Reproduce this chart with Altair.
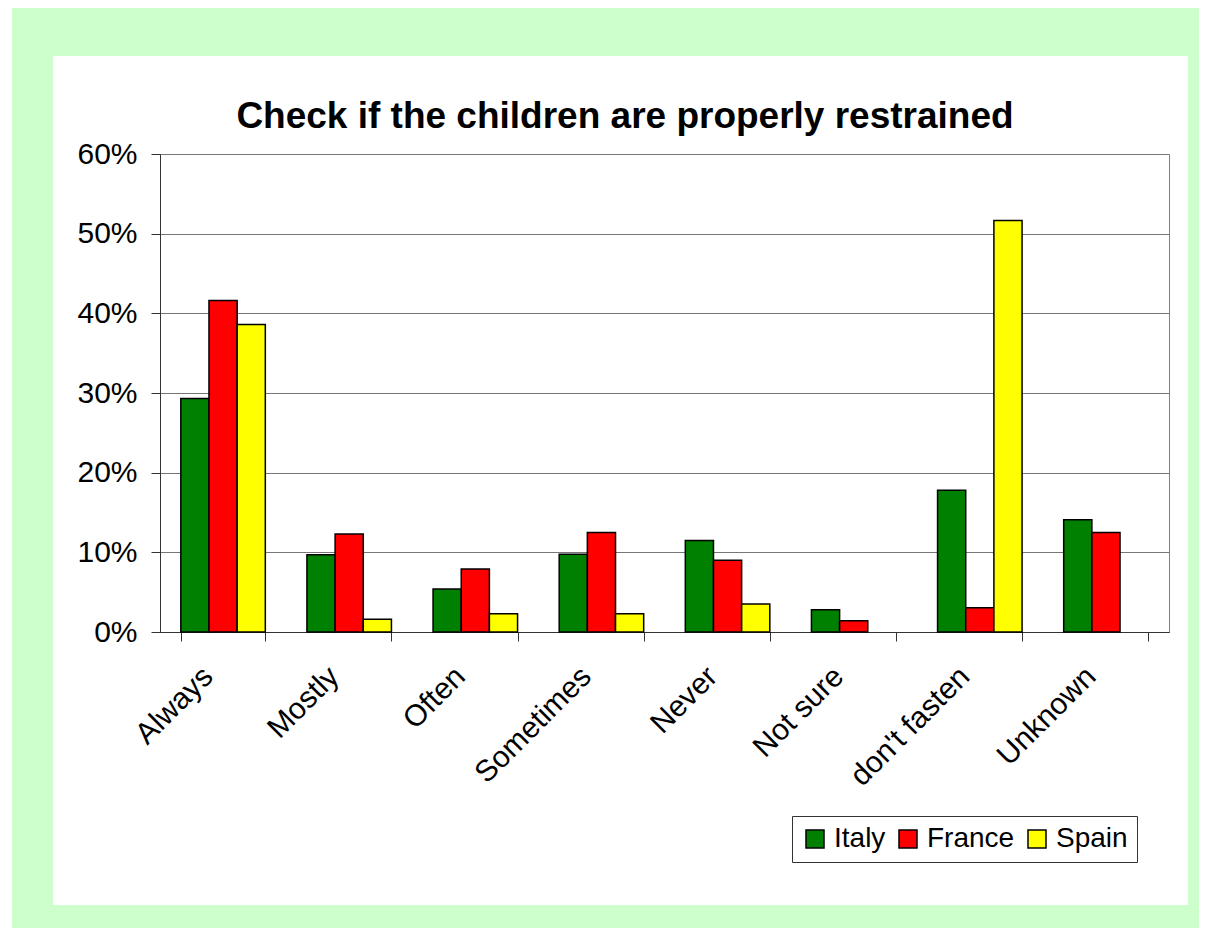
import altair as alt
import pandas as pd

categories = ["Always", "Mostly", "Often", "Sometimes", "Never", "Not sure", "don't fasten", "Unknown"]
countries = ["Italy", "France", "Spain"]
italy = [29.3, 9.7, 5.4, 9.75, 11.5, 2.8, 17.8, 14.1]
france = [41.6, 12.3, 7.9, 12.5, 9.0, 1.4, 3.05, 12.5]
spain = [38.6, 1.6, 2.3, 2.3, 3.5, None, 51.65, None]
y_ticks = [0, 0.1, 0.2, 0.3, 0.4, 0.5, 0.6]
colors = ["#008000", "#FF0000", "#FFFF00"]
title_text = ["Check if the children are properly restrained"]

rows = []
for country, vals in zip(countries, [italy, france, spain]):
    for cat, v in zip(categories, vals):
        if v is not None:
            rows.append({"category": cat, "country": country, "value": v / 100})
df = pd.DataFrame(rows)

FONT = "Arial"
GREEN_BG = "#CCFFCC"

bars = alt.Chart(df).mark_bar(stroke="black", strokeWidth=1.5).encode(
    x=alt.X(
        "category:N", sort=categories,
        scale=alt.Scale(paddingInner=0.33, paddingOuter=0.165),
        axis=alt.Axis(
            title=None, labelAngle=-45, labelAlign="right", labelBaseline="alphabetic",
            labelFontSize=30, labelFont=FONT, labelColor="black", labelPadding=37,
            labelOffset=-9,
            tickBand="extent", tickSize=9, tickColor="#333", domainColor="#333",
            grid=False, labelOverlap=False,
        ),
    ),
    xOffset=alt.XOffset("country:N", sort=countries, scale=alt.Scale(domain=countries, paddingInner=0, paddingOuter=0)),
    y=alt.Y(
        "value:Q", scale=alt.Scale(domain=[0, 0.6]),
        axis=alt.Axis(
            title=None, format=".0%", values=y_ticks, tickSize=9, labelPadding=14,
            labelFontSize=30, labelFont=FONT, labelColor="black",
            gridColor="#777", gridWidth=1, domainColor="#333", tickColor="#333",
        ),
    ),
    color=alt.Color(
        "country:N", sort=countries,
        scale=alt.Scale(domain=countries, range=colors),
        legend=alt.Legend(
            title=None, orient="none", legendX=632, legendY=662, direction="horizontal",
            symbolType="square", symbolSize=324, symbolStrokeColor="black", symbolStrokeWidth=1.5,
            symbolOpacity=1, labelFontSize=28, labelFont=FONT, labelColor="black",
            strokeColor="#333", fillColor="white", padding=9, columnPadding=8, labelOffset=5,
        ),
    ),
)

one = pd.DataFrame({"a": [1]})

def strip(x1, x2, y1, y2):
    return alt.Chart(one).mark_rect(fill=GREEN_BG, clip=False).encode(
        x=alt.value(x1), x2=alt.value(x2), y=alt.value(y1), y2=alt.value(y2)
    )

frame = [
    strip(-148, 1039, -147, -98),
    strip(-148, 1039, 751, 774),
    strip(-148, -107, -98, 751),
    strip(1028, 1039, -98, 751),
]

title = alt.Chart(pd.DataFrame({"t": title_text})).mark_text(
    font=FONT, fontSize=37, fontWeight="bold", color="black",
    align="center", baseline="alphabetic",
).encode(text="t:N", x=alt.value(465), y=alt.value(-26))

chart = alt.layer(*frame, bars, title).properties(
    width=1009, height=478,
    autosize=alt.AutoSizeParams(type="none"),
    padding={"left": 152, "top": 146, "right": 30, "bottom": 296},
    background="white",
).configure_view(stroke="#808080", strokeWidth=1)

chart.save("out.html", embed_options={"renderer": "svg", "actions": False})
